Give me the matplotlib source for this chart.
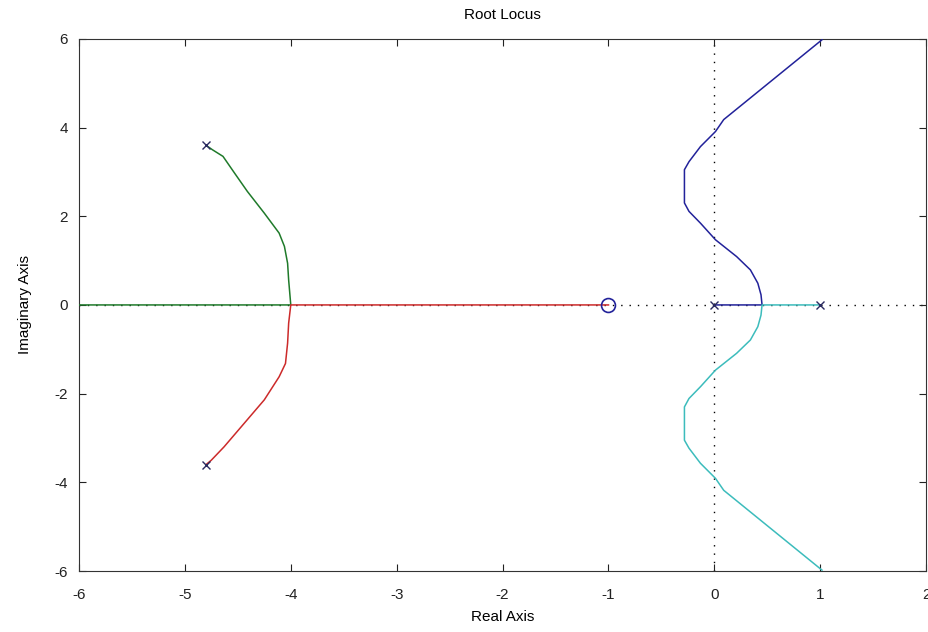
import matplotlib
matplotlib.use("Agg")
import matplotlib.pyplot as plt

plt.rcParams["font.family"] = ["Liberation Sans", "DejaVu Sans"]
plt.rcParams["axes.unicode_minus"] = False

# open-loop poles and zero
pole_re = [0.0, 1.0, -4.80, -4.80]
pole_im = [0.0, 0.0, 3.60, -3.60]
zero_re = [-1.0]
zero_im = [0.0]

# branch 1: pole at 0 -> breakaway -> upper asymptote
blue_re = [0.0, 0.45, 0.44, 0.41, 0.34, 0.21, 0.01, -0.13, -0.24, -0.283,
           -0.283, -0.24, -0.132, 0.01, 0.088, 1.016]
blue_im = [0.0, 0.0, 0.23, 0.49, 0.79, 1.09, 1.47, 1.84, 2.11, 2.30,
           3.05, 3.23, 3.57, 3.91, 4.18, 5.98]

# branch 2: pole at 1 -> breakaway -> lower asymptote
cyan_re = [1.0, 0.45, 0.44, 0.41, 0.34, 0.21, 0.01, -0.13, -0.24, -0.283,
           -0.283, -0.24, -0.132, 0.01, 0.088, 1.016]
cyan_im = [0.0, 0.0, -0.23, -0.49, -0.79, -1.09, -1.47, -1.84, -2.11, -2.30,
           -3.05, -3.23, -3.57, -3.91, -4.18, -5.98]

# branch 3: upper complex pole -> break-in at -4 -> out along negative real axis
green_re = [-4.80, -4.74, -4.64, -4.53, -4.41, -4.25, -4.11, -4.06, -4.03,
            -4.02, -4.00, -6.2]
green_im = [3.60, 3.50, 3.35, 2.97, 2.56, 2.07, 1.62, 1.32, 0.94,
            0.56, 0.0, 0.0]

# branch 4: lower complex pole -> break-in at -4 -> zero at -1
red_re = [-4.80, -4.75, -4.63, -4.44, -4.25, -4.11, -4.05, -4.03, -4.02,
          -4.00, -1.0]
red_im = [-3.60, -3.50, -3.20, -2.67, -2.14, -1.62, -1.32, -0.86, -0.41,
          0.0, 0.0]

x_ticks = [-6, -5, -4, -3, -2, -1, 0, 1, 2]
y_ticks = [-6, -4, -2, 0, 2, 4, 6]

fig = plt.figure(figsize=(9.29, 6.32), dpi=100)
ax = fig.add_axes([0.085, 0.0965, 0.912, 0.842])

# real and imaginary axes as sparse dotted lines
ax.axhline(0, color="black", linestyle=(0, (1, 5)), linewidth=1.0, zorder=1)
ax.axvline(0, color="black", linestyle=(0, (1, 5)), linewidth=1.0, zorder=1)

ax.plot(blue_re, blue_im, color="#22229a", linewidth=1.1, zorder=3)
ax.plot(green_re, green_im, color="#1f7a2a", linewidth=1.1, zorder=3)
ax.plot(red_re, red_im, color="#cc2a2a", linewidth=1.1, zorder=3)
ax.plot(cyan_re, cyan_im, color="#3cbcbc", linewidth=1.1, zorder=3)

ax.plot(pole_re, pole_im, linestyle="none", marker="x", markersize=6,
        markeredgewidth=1.0, color="#2a2a60", zorder=4)
ax.plot(zero_re, zero_im, linestyle="none", marker="o", markersize=10,
        markerfacecolor="none", markeredgewidth=1.2, color="#22229a", zorder=4)

ax.set_xlim(-6, 2)
ax.set_ylim(-6, 6)
ax.set_xticks(x_ticks)
ax.set_yticks(y_ticks)
ax.tick_params(direction="in", top=True, right=True, length=5, width=0.8,
               labelsize=11, colors="#222222")
ax.tick_params(axis="x", pad=12)
ax.tick_params(axis="y", pad=8)
for s in ax.spines.values():
    s.set_linewidth(0.8)
    s.set_color("#333333")

ax.set_title("Root Locus", fontsize=11, pad=14)
ax.set_xlabel("Real Axis", fontsize=11, labelpad=6)
ax.set_ylabel("Imaginary Axis", fontsize=11, labelpad=16)

fig.savefig("out.png", dpi=100)
